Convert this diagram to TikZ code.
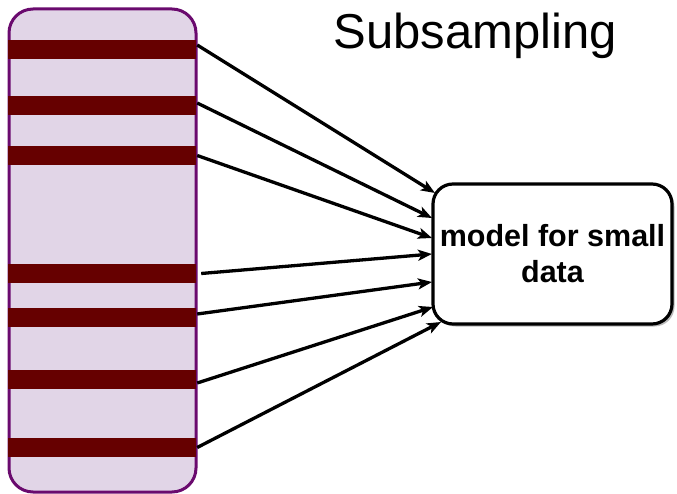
\documentclass[tikz,border=0pt]{standalone}
\usepackage{fontspec}
\setmainfont{Liberation Sans}
\usetikzlibrary{arrows.meta,shadows}
\definecolor{binfill}{HTML}{E1D5E7}
\definecolor{binline}{HTML}{6A0A6E}
\definecolor{rowred}{HTML}{660000}
\tikzset{
  datastore/.style={draw=binline, line width=3pt, fill=binfill, rounded corners=24pt,
    minimum width=187pt, minimum height=483pt, inner sep=0pt},
  samplerow/.style={fill=rowred, draw=none, minimum width=188pt, minimum height=19pt, inner sep=0pt},
  modelbox/.style={draw=black, line width=3.2pt, fill=white, rounded corners=20pt,
    minimum width=239pt, minimum height=140pt, align=center, inner sep=0pt,
    font=\fontsize{30.5}{36}\selectfont\bfseries,
    drop shadow={shadow xshift=2.5pt, shadow yshift=-2.5pt, fill=black!45, opacity=0.6}},
  feed/.style={-{Stealth[length=14pt,width=11pt,inset=3.5pt]}, line width=3.3pt, black},
  heading/.style={font=\fontsize{49}{56}\selectfont, inner sep=0pt, anchor=base}
}
\begin{document}
\begin{tikzpicture}[x=1pt,y=-1pt]
  \useasboundingbox (0,0) rectangle (677,494);

  % the full data set with the sampled rows
  \node[datastore] (store) at (102.5,250.5) {};
  \node[samplerow] (r1) at (102,49.5) {};
  \node[samplerow] (r2) at (102,105.5) {};
  \node[samplerow] (r3) at (102,155.5) {};
  \node[samplerow] (r4) at (102,273.5) {};
  \node[samplerow] (r5) at (102,317.5) {};
  \node[samplerow] (r6) at (102,379.5) {};
  \node[samplerow] (r7) at (102,447.5) {};

  % model
  \node[modelbox] (model) at (552.5,254) {model for small\\data};

  % heading
  \node[heading] (title) at (475,49) {Subsampling};

  % arrow targets along the model's left side
  \coordinate (t1) at (435,193);
  \coordinate (t2) at (432,218);
  \coordinate (t3) at (432,238);
  \coordinate (t4) at (432,254);
  \coordinate (t5) at (432,282);
  \coordinate (t6) at (433,307);
  \coordinate (t7) at (441,322);

  \draw[feed] ([xshift=1pt,yshift=4.5pt]r1.east) -- (t1);
  \draw[feed] ([xshift=1pt,yshift=2.5pt]r2.east) -- (t2);
  \draw[feed] ([xshift=1pt]r3.east) -- (t3);
  \draw[feed] ([xshift=5pt]r4.east) -- (t4);
  \draw[feed] ([xshift=1pt,yshift=3.5pt]r5.east) -- (t5);
  \draw[feed] ([xshift=1pt,yshift=-3.5pt]r6.east) -- (t6);
  \draw[feed] ([xshift=1pt]r7.east) -- (t7);
\end{tikzpicture}
\end{document}
